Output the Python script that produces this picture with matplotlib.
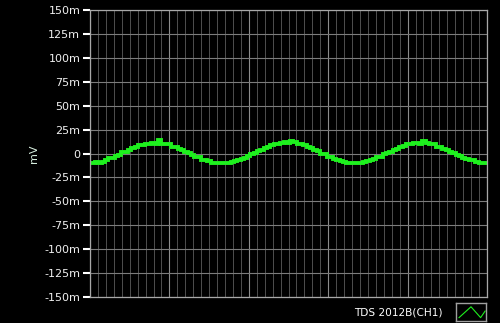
import matplotlib
matplotlib.use("Agg")
import matplotlib.pyplot as plt
from matplotlib.ticker import MultipleLocator, FixedLocator

# Data (mV), 121 samples spanning the screen
signal_mv = [
    -9.6, -10.4, -9.2, -9.8, -8.4, -7.2, -5.2, -4.8, -2.4, -1.6,
    1.2, 1.6, 4.0, 5.6, 6.4, 8.8, 8.8, 10.4, 10.4, 11.2,
    10.4, 13.6, 10.4, 9.6, 9.6, 7.2, 7.2, 4.8, 4.0, 1.6,
    0.8, -1.6, -3.2, -4.0, -6.4, -7.2, -8.0, -9.6, -9.6, -10.4,
    -10.4, -9.6, -10.4, -8.8, -8.0, -7.2, -5.6, -4.8, -2.4, -0.8,
    0.8, 2.4, 4.0, 5.6, 7.2, 8.8, 9.6, 10.4, 11.2, 12.0,
    11.2, 12.8, 12.0, 10.4, 9.6, 8.8, 6.4, 5.6, 4.0, 2.4,
    0.0, -0.8, -3.2, -4.0, -5.6, -7.2, -8.0, -8.8, -10.4, -9.6,
    -10.4, -9.6, -9.6, -8.8, -8.0, -6.4, -5.6, -4.0, -3.2, -0.8,
    0.8, 1.6, 4.0, 4.8, 7.2, 8.0, 9.6, 9.6, 11.2, 11.2,
    10.4, 12.8, 11.2, 9.6, 10.4, 7.2, 7.2, 4.8, 4.0, 1.6,
    0.8, -1.6, -2.4, -4.8, -5.6, -7.2, -7.2, -8.8, -9.6, -9.6,
    -10.4,
]
y_ticks_mv = [150, 125, 100, 75, 50, 25, 0, -25, -50, -75, -100, -125, -150]
y_tick_labels = ["150m", "125m", "100m", "75m", "50m", "25m", "0",
                 "-25m", "-50m", "-75m", "-100m", "-125m", "-150m"]
y_label = "mV"
legend_text = "TDS 2012B(CH1)"

n = len(signal_mv)
x_vals = [i * 50.0 / (n - 1) for i in range(n)]

fig = plt.figure(figsize=(5.0, 3.23), dpi=100, facecolor="black")
ax = fig.add_axes([0.18, 0.0805, 0.794, 0.8885])
ax.set_facecolor("black")
ax.set_xlim(0, 50)
ax.set_ylim(-150, 150)

# grid
ax.xaxis.set_minor_locator(MultipleLocator(1))
ax.xaxis.set_major_locator(MultipleLocator(10))
ax.yaxis.set_major_locator(FixedLocator(y_ticks_mv))
ax.set_yticklabels(y_tick_labels)
ax.grid(which="minor", axis="x", color="#4c4c4c", linewidth=0.72)
ax.grid(which="major", axis="x", color="#8c8c8c", linewidth=0.8)
ax.grid(which="major", axis="y", color="#7c7c7c", linewidth=0.8)
ax.set_axisbelow(True)

ax.tick_params(axis="x", which="both", length=0, labelbottom=False)
ax.tick_params(axis="y", which="major", length=5, width=1.5, color="white",
               labelcolor="#f0f0f0", labelsize=8, pad=2, direction="out")
for side, sp in ax.spines.items():
    sp.set_color("#a8a8a8")
    sp.set_linewidth(0.9)

ax.set_ylabel(y_label, color="#d8f0e0", fontsize=8, labelpad=4)

ax.plot(x_vals, signal_mv, color="#1ef01e", linewidth=2.8,
        drawstyle="steps-mid", solid_joinstyle="miter")

fig.text(0.886, 0.034, legend_text, color="white", fontsize=7.6,
         ha="right", va="center")

# legend icon box
lax = fig.add_axes([0.912, 0.005, 0.06, 0.058])
lax.set_facecolor("black")
lax.set_xlim(0, 1)
lax.set_ylim(0, 1)
lax.set_xticks([])
lax.set_yticks([])
for sp in lax.spines.values():
    sp.set_color("#a0a0a0")
    sp.set_linewidth(1.0)
icon_x = [0.1, 0.5, 0.82, 0.97]
icon_y = [0.2, 0.78, 0.2, 0.55]
lax.plot(icon_x, icon_y, color="#1ef01e", linewidth=0.8)

fig.savefig("out.png", dpi=100, facecolor="black")
